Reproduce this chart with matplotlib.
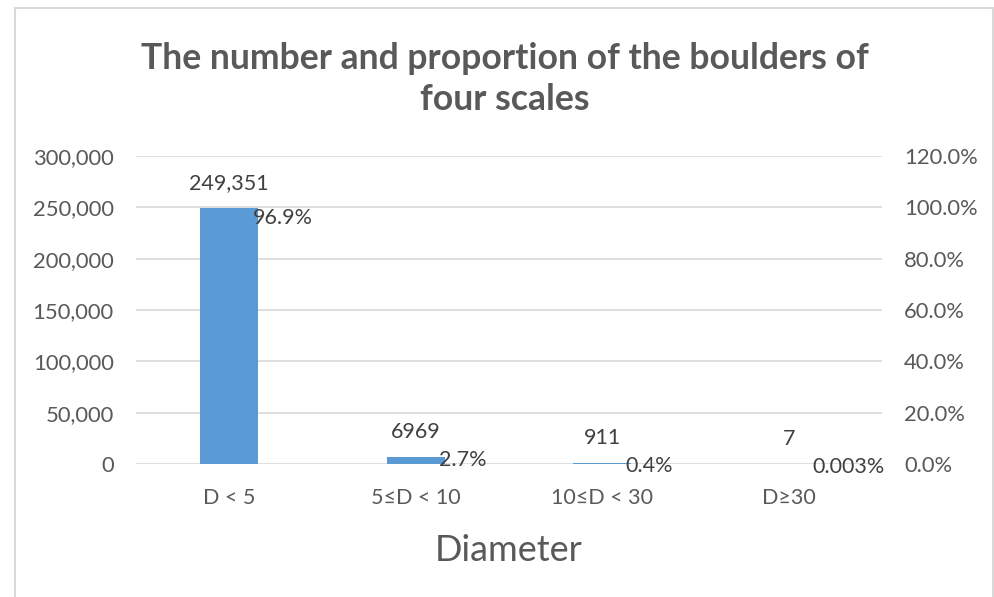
import matplotlib
matplotlib.use("Agg")
import matplotlib.pyplot as plt
from matplotlib.patches import Rectangle
from matplotlib.ticker import FuncFormatter, MultipleLocator

categories = ["D < 5", "5≤D < 10", "10≤D < 30", "D≥30"]
counts = [249351, 6969, 911, 7]
count_labels = ["249,351", "6969", "911", "7"]
proportions = [0.969, 0.027, 0.004, 0.00003]
proportion_labels = ["96.9%", "2.7%", "0.4%", "0.003%"]

plt.rcParams["font.family"] = ["Lato", "DejaVu Sans"]

W, H = 994, 597
fig = plt.figure(figsize=(W / 100, H / 100), dpi=100)

# chart frame
fig.patches.append(Rectangle((15 / W, -0.1), (993 - 15) / W, 1.1 - 8 / H,
                             transform=fig.transFigure, fill=False,
                             edgecolor="#d9d9d9", linewidth=1.5))

left, right, top, bottom = 136, 882, 156, 464
ax = fig.add_axes([left / W, 1 - bottom / H, (right - left) / W, (bottom - top) / H])
ax2 = ax.twinx()

x = list(range(len(categories)))
ax.bar(x, counts, width=0.31, color="#5b9bd5", zorder=3)
ax.set_xlim(-0.5, len(categories) - 0.5)
ax.set_ylim(0, 300000)
ax.yaxis.set_major_locator(MultipleLocator(50000))
ax.yaxis.set_major_formatter(FuncFormatter(lambda v, p: f"{int(v):,}"))
ax.grid(axis="y", color="#d9d9d9", linewidth=1.2, zorder=0)
ax.set_xticks(x)
ax.set_xticklabels(categories)
for s in ax.spines.values():
    s.set_visible(False)
for s in ax2.spines.values():
    s.set_visible(False)
ax.tick_params(axis="y", length=0, pad=16, labelsize=15.8, labelcolor="#595959")
ax.tick_params(axis="x", length=0, pad=17, labelsize=15.5, labelcolor="#595959")

ax2.set_ylim(0, 1.2)
ax2.yaxis.set_major_locator(MultipleLocator(0.2))
ax2.yaxis.set_major_formatter(FuncFormatter(lambda v, p: f"{v * 100:.1f}%"))
ax2.tick_params(axis="y", length=0, pad=16, labelsize=15.8, labelcolor="#595959")
ax2.plot(x, proportions, linestyle="none", marker=None)

for xi, c, lab in zip(x, counts, count_labels):
    ax.annotate(lab, (xi, c), xytext=(0, 18), textcoords="offset points",
                ha="center", va="center", fontsize=15.5, color="#404040", zorder=5)
for xi, p, lab in zip(x, proportions, proportion_labels):
    ax2.annotate(lab, (xi, p), xytext=(17, -2), textcoords="offset points",
                 ha="left", va="center", fontsize=15.5, color="#404040", zorder=5)

ax.set_xlabel("Diameter", fontsize=26, color="#595959", labelpad=19)

fig.text(505 / W, 1 - 79 / H, "The number and proportion of the boulders of\nfour scales",
         ha="center", va="center", fontsize=25.6, fontweight="bold", color="#595959",
         linespacing=1.3)

fig.savefig("out.png", dpi=100, facecolor="white")
